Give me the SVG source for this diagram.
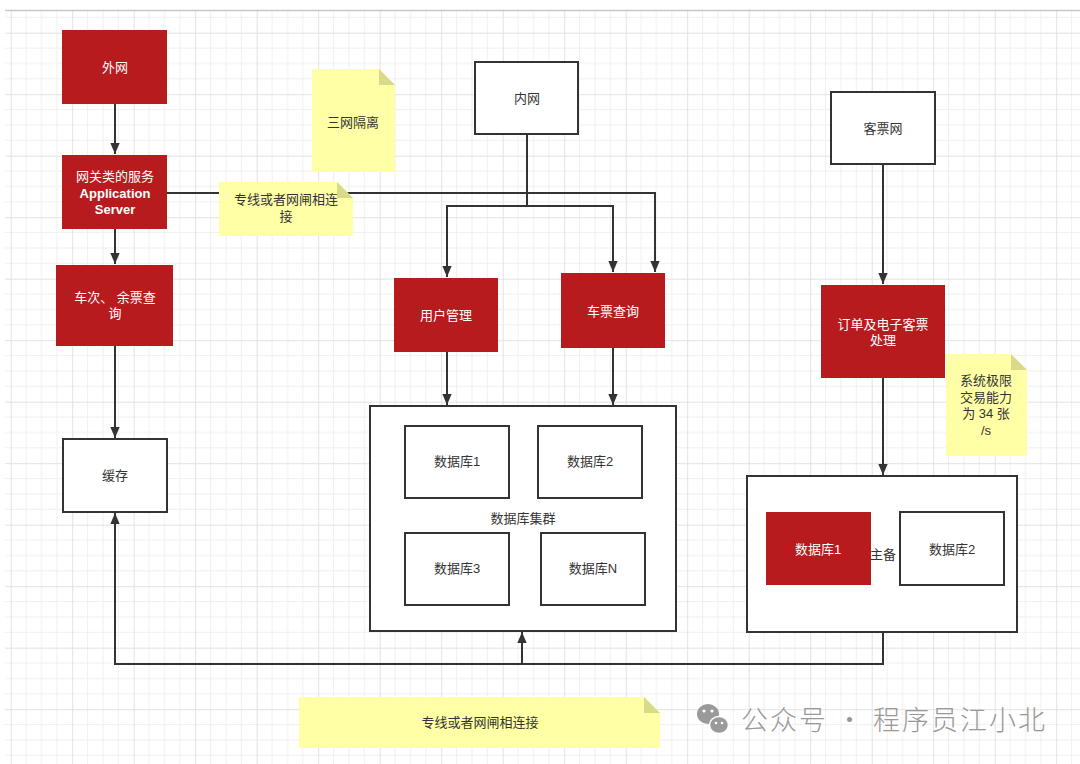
<svg xmlns="http://www.w3.org/2000/svg" width="1080" height="764" viewBox="0 0 1080 764">
<defs>
<pattern id="grid" patternUnits="userSpaceOnUse" x="10.7" y="32.7" width="61.5" height="61.5">
<path d="M15.4 0V61.5M30.75 0V61.5M46.1 0V61.5M0 15.4H61.5M0 30.75H61.5M0 46.1H61.5" stroke="#f0f0f0" stroke-width="1" fill="none"/>
<path d="M0.5 0V61.5M0 0.5H61.5" stroke="#e2e2e2" stroke-width="1" fill="none"/>
</pattern>
<marker id="arr" markerUnits="userSpaceOnUse" markerWidth="11" markerHeight="13" viewBox="0 0 13 11" refX="13" refY="5.5" orient="auto">
<path d="M0,0 L13,5.5 L0,11 z" fill="#333"/>
</marker>
</defs>
<style>
.red{fill:#B71B1E;}
.wht{fill:#fff;stroke:#333;stroke-width:2;}
.note{fill:#FFFFA6;}
.fold{fill:#D9D98A;}
.tw{font-family:"Liberation Sans","Noto Sans CJK SC",sans-serif;font-size:13px;fill:#fff;text-anchor:middle;}
.tb{font-family:"Liberation Sans","Noto Sans CJK SC",sans-serif;font-size:13px;fill:#333;text-anchor:middle;}
.ln{fill:none;stroke:#333;stroke-width:2;}
</style>
<rect x="0" y="0" width="1080" height="764" fill="#fff"/>
<rect x="5" y="11" width="1075" height="753" fill="url(#grid)"/>
<line x1="5" y1="10.5" x2="1080" y2="10.5" stroke="#c8c8c8" stroke-width="1.5"/>

<g id="connectors">
<path class="ln" d="M115 104V154" marker-end="url(#arr)"/>
<path class="ln" d="M115 229V264" marker-end="url(#arr)"/>
<path class="ln" d="M115 346V438" marker-end="url(#arr)"/>
<path class="ln" d="M167 193H655V272" marker-end="url(#arr)"/>
<path class="ln" d="M527 134V206H447V277" marker-end="url(#arr)"/>
<path class="ln" d="M527 206H613V272" marker-end="url(#arr)"/>
<path class="ln" d="M447 352V405" marker-end="url(#arr)"/>
<path class="ln" d="M613 348V405" marker-end="url(#arr)"/>
<path class="ln" d="M883 164V284" marker-end="url(#arr)"/>
<path class="ln" d="M883 378V475" marker-end="url(#arr)"/>
<path class="ln" d="M883 632V664H115V513" marker-end="url(#arr)"/>
<path class="ln" d="M522 664V632" marker-end="url(#arr)"/>
</g>

<g id="n-waiwang">
<rect class="red" x="62" y="30" width="105" height="74"/>
<text class="tw" x="115" y="72">外网</text>
</g>
<g id="n-gateway">
<rect class="red" x="62" y="155" width="105" height="74"/>
<text class="tw" x="115" y="181">网关类的服务</text>
<text class="tw" x="115" y="198" font-weight="bold">Application</text>
<text class="tw" x="115" y="214" font-weight="bold">Server</text>
</g>
<g id="n-checi">
<rect class="red" x="56" y="265" width="117" height="81"/>
<text class="tw" x="115" y="302">车次、 余票查</text>
<text class="tw" x="115" y="318">询</text>
</g>
<g id="n-cache">
<rect class="wht" x="63" y="439" width="104" height="73"/>
<text class="tb" x="115" y="480">缓存</text>
</g>
<g id="note-sanwang">
<path class="note" d="M312 69H379L395 85V172H312Z"/>
<path class="fold" d="M379 69L395 85H379Z"/>
<text class="tb" x="353" y="127">三网隔离</text>
</g>
<g id="note-top">
<path class="note" d="M219 182H337L353 198V236H219Z"/>
<path class="fold" d="M337 182L353 198H337Z"/>
<text class="tb" x="286" y="204">专线或者网闸相连</text>
<text class="tb" x="286" y="221">接</text>
</g>
<g id="n-neiwang">
<rect class="wht" x="475" y="62" width="103" height="72"/>
<text class="tb" x="527" y="103">内网</text>
</g>
<g id="n-user">
<rect class="red" x="394" y="278" width="104" height="74"/>
<text class="tw" x="446" y="320">用户管理</text>
</g>
<g id="n-ticket">
<rect class="red" x="561" y="273" width="104" height="75"/>
<text class="tw" x="613" y="316">车票查询</text>
</g>
<g id="n-kepiao">
<rect class="wht" x="831" y="92" width="104" height="72"/>
<text class="tb" x="883" y="133">客票网</text>
</g>
<g id="n-order">
<rect class="red" x="821" y="285" width="124" height="93"/>
<text class="tw" x="883" y="329">订单及电子客票</text>
<text class="tw" x="883" y="345">处理</text>
</g>
<g id="note-limit">
<path class="note" d="M946 354H1011L1027 370V456H946Z"/>
<path class="fold" d="M1011 354L1027 370H1011Z"/>
<text class="tb" x="986" y="385">系统极限</text>
<text class="tb" x="986" y="402">交易能力</text>
<text class="tb" x="986" y="418">为 34 张</text>
<text class="tb" x="986" y="435">/s</text>
</g>
<g id="n-cluster">
<rect class="wht" x="370" y="406" width="306" height="225"/>
<text class="tb" x="523" y="523">数据库集群</text>
</g>
<g id="n-db1">
<rect class="wht" x="405" y="426" width="104" height="72"/>
<text class="tb" x="457" y="466">数据库1</text>
</g>
<g id="n-db2">
<rect class="wht" x="538" y="426" width="104" height="72"/>
<text class="tb" x="590" y="466">数据库2</text>
</g>
<g id="n-db3">
<rect class="wht" x="405" y="533" width="104" height="72"/>
<text class="tb" x="457" y="573">数据库3</text>
</g>
<g id="n-dbn">
<rect class="wht" x="541" y="533" width="104" height="72"/>
<text class="tb" x="593" y="573">数据库N</text>
</g>
<g id="n-master">
<rect class="wht" x="747" y="476" width="270" height="156"/>
<text class="tb" x="883" y="559">主备</text>
</g>
<g id="n-mdb1">
<rect class="red" x="766" y="512" width="105" height="73"/>
<text class="tw" x="818" y="554">数据库1</text>
</g>
<g id="n-mdb2">
<rect class="wht" x="900" y="512" width="104" height="73"/>
<text class="tb" x="952" y="554">数据库2</text>
</g>
<g id="note-bottom">
<path class="note" d="M299 697H644L660 713V748H299Z"/>
<path class="fold" d="M644 697L660 713H644Z"/>
<text class="tb" x="480" y="727">专线或者网闸相连接</text>
</g>
<g id="watermark">
<ellipse cx="708" cy="714" rx="11" ry="10" fill="#9a9a9a"/>
<ellipse cx="719" cy="725" rx="9.5" ry="8.5" fill="#9a9a9a" stroke="#fff" stroke-width="1.5"/>
<circle cx="704" cy="711" r="1.6" fill="#fff"/>
<circle cx="712" cy="711" r="1.6" fill="#fff"/>
<circle cx="716" cy="723" r="1.3" fill="#fff"/>
<circle cx="722" cy="723" r="1.3" fill="#fff"/>
<text x="741" y="730" font-family="'Noto Sans CJK SC',sans-serif" font-size="27" font-weight="300" letter-spacing="2" fill="#999">公众号 · 程序员江小北</text>
</g>
</svg>
